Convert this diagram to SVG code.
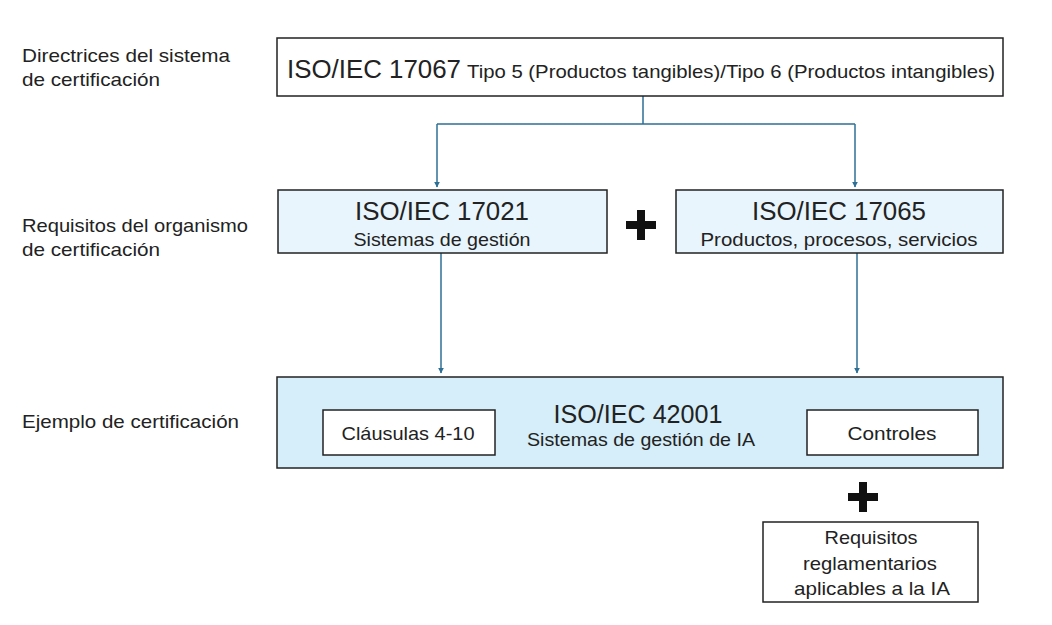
<svg xmlns="http://www.w3.org/2000/svg" width="1052" height="625" viewBox="0 0 1052 625">
<style>
text{font-family:"Liberation Sans",Arial,sans-serif;fill:#222}
.lab{font-size:19px}
.box{stroke:#222;stroke-width:1.5}
.big{font-size:25px}
.sub{font-size:19px}
.conn{fill:none;stroke:#2e6f96;stroke-width:1.5}
.plus{fill:#111}
</style>
<defs>
<marker id="ah" viewBox="0 0 10 10" refX="9" refY="5" markerWidth="6" markerHeight="6" orient="auto" markerUnits="userSpaceOnUse">
<path d="M0,0 L10,5 L0,10 z" fill="#2e6f96"/>
</marker>
</defs>
<rect width="1052" height="625" fill="#fff"/>
<g id="labels">
<text class="lab" x="22" y="62" textLength="208" lengthAdjust="spacingAndGlyphs">Directrices del sistema</text>
<text class="lab" x="22" y="86" textLength="138" lengthAdjust="spacingAndGlyphs">de certificación</text>
<text class="lab" x="22" y="232" textLength="226" lengthAdjust="spacingAndGlyphs">Requisitos del organismo</text>
<text class="lab" x="22" y="256" textLength="138" lengthAdjust="spacingAndGlyphs">de certificación</text>
<text class="lab" x="22" y="428" textLength="217" lengthAdjust="spacingAndGlyphs">Ejemplo de certificación</text>
</g>
<g id="connectors">
<path class="conn" d="M643,96 V124 M437,124 H855"/>
<path class="conn" d="M437,124 V187" marker-end="url(#ah)"/>
<path class="conn" d="M855,124 V187" marker-end="url(#ah)"/>
<path class="conn" d="M441,253 V373" marker-end="url(#ah)"/>
<path class="conn" d="M857,253 V373" marker-end="url(#ah)"/>
</g>
<g id="n17067">
<rect class="box" x="277" y="38" width="726" height="58" fill="#fff"/>
<text x="287" y="78"><tspan class="big" textLength="174" lengthAdjust="spacingAndGlyphs">ISO/IEC 17067</tspan><tspan class="sub" dx="6" font-size="18" textLength="528" lengthAdjust="spacingAndGlyphs">Tipo 5 (Productos tangibles)/Tipo 6 (Productos intangibles)</tspan></text>
</g>
<g id="n17021">
<rect class="box" x="278" y="190" width="329" height="63" fill="#e8f5fc"/>
<text class="big" x="442" y="220" text-anchor="middle" textLength="174" lengthAdjust="spacingAndGlyphs">ISO/IEC 17021</text>
<text class="sub" x="442" y="246" text-anchor="middle" textLength="177" lengthAdjust="spacingAndGlyphs">Sistemas de gestión</text>
</g>
<g id="plus1">
<path class="plus" d="M626,221 h30 v8 h-30 z M637,210 h8 v30 h-8 z"/>
</g>
<g id="n17065">
<rect class="box" x="676" y="190" width="327" height="63" fill="#e8f5fc"/>
<text class="big" x="839" y="220" text-anchor="middle" textLength="174" lengthAdjust="spacingAndGlyphs">ISO/IEC 17065</text>
<text class="sub" x="839" y="246" text-anchor="middle" textLength="277" lengthAdjust="spacingAndGlyphs">Productos, procesos, servicios</text>
</g>
<g id="n42001">
<rect class="box" x="277" y="377" width="726" height="91" fill="#d5eef9"/>
<text class="big" x="638" y="423" text-anchor="middle" textLength="169" lengthAdjust="spacingAndGlyphs">ISO/IEC 42001</text>
<text class="sub" x="641" y="446" text-anchor="middle" textLength="228" lengthAdjust="spacingAndGlyphs">Sistemas de gestión de IA</text>
</g>
<g id="clausulas">
<rect class="box" x="323" y="410" width="172" height="45" fill="#fff"/>
<text class="sub" x="408" y="440" text-anchor="middle" textLength="133" lengthAdjust="spacingAndGlyphs">Cláusulas 4-10</text>
</g>
<g id="controles">
<rect class="box" x="807" y="410" width="171" height="45" fill="#fff"/>
<text class="sub" x="892" y="440" text-anchor="middle" textLength="89" lengthAdjust="spacingAndGlyphs">Controles</text>
</g>
<g id="plus2">
<path class="plus" d="M848,493 h30 v8 h-30 z M859,482 h8 v30 h-8 z"/>
</g>
<g id="requisitos">
<rect class="box" x="763" y="522" width="215" height="80" fill="#fff"/>
<text class="sub" x="871" y="544" text-anchor="middle" textLength="93" lengthAdjust="spacingAndGlyphs">Requisitos</text>
<text class="sub" x="870" y="570" text-anchor="middle" textLength="134" lengthAdjust="spacingAndGlyphs">reglamentarios</text>
<text class="sub" x="872" y="595" text-anchor="middle" textLength="156" lengthAdjust="spacingAndGlyphs">aplicables a la IA</text>
</g>
</svg>
